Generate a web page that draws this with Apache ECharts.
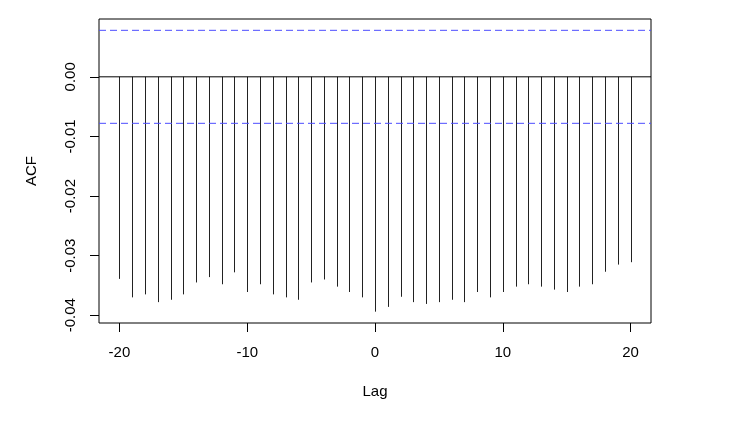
<!DOCTYPE html>
<html>
<head>
<meta charset="utf-8">
<script src="https://cdn.jsdelivr.net/npm/echarts@6/dist/echarts.min.js"></script>
<style>
  html, body { margin: 0; padding: 0; background: #fff; }
  #chart { width: 751px; height: 425px; }
</style>
</head>
<body>
<div id="chart"></div>
<script>
// lags and autocorrelation values
const lags = [-20, -19, -18, -17, -16, -15, -14, -13, -12, -11, -10, -9, -8, -7, -6, -5, -4, -3, -2, -1,
    0, 1, 2, 3, 4, 5, 6, 7, 8, 9, 10, 11, 12, 13, 14, 15, 16, 17, 18, 19, 20]
const acf = [-0.0339, -0.0370, -0.0365, -0.0378, -0.0374, -0.0365, -0.0345, -0.0336, -0.0348, -0.0328,
    -0.0361, -0.0348, -0.0365, -0.0370, -0.0374, -0.0345, -0.0340, -0.0352, -0.0361, -0.0370,
    -0.0394, -0.0386, -0.0369, -0.0378, -0.0381, -0.0378, -0.0374, -0.0378, -0.0361, -0.0370,
    -0.0361, -0.0352, -0.0348, -0.0352, -0.0357, -0.0361, -0.0352, -0.0348, -0.0327, -0.0315, -0.0311]
const ciBound = 0.0078
const xRange = [-21.6, 21.6]
const yRange = [-0.0413, 0.0097]
const xTicks = [-20, -10, 0, 10, 20]
const yTicks = [0, -0.01, -0.02, -0.03, -0.04]

const font = 'Liberation Sans, Arial, sans-serif'
const chart = echarts.init(document.getElementById('chart'))

// horizontal reference line spanning the full x range
function hline(y, color, dash, z) {
    return {
        type: 'line',
        data: [[xRange[0], y], [xRange[1], y]],
        symbol: 'none',
        silent: true,
        z: z,
        lineStyle: { color: color, width: 1, type: dash }
    }
}

chart.setOption({
    animation: false,
    backgroundColor: '#fff',
    grid: { left: 99, right: 100, top: 19, bottom: 102, show: true, borderColor: '#000', borderWidth: 1 },
    xAxis: {
        type: 'value',
        min: xRange[0],
        max: xRange[1],
        name: 'Lag',
        nameLocation: 'middle',
        nameGap: 61,
        nameTextStyle: { fontFamily: font, fontSize: 15, color: '#000' },
        axisLine: { show: false, onZero: false },
        splitLine: { show: false },
        axisTick: { show: true, customValues: xTicks, length: 9, lineStyle: { color: '#000' } },
        axisLabel: { customValues: xTicks, margin: 22, fontFamily: font, fontSize: 15, color: '#000' }
    },
    yAxis: {
        type: 'value',
        min: yRange[0],
        max: yRange[1],
        name: 'ACF',
        nameLocation: 'middle',
        nameGap: 60,
        nameRotate: 90,
        nameTextStyle: { fontFamily: font, fontSize: 15, color: '#000' },
        axisLine: { show: false, onZero: false },
        splitLine: { show: false },
        axisTick: { show: true, customValues: yTicks, length: 9, lineStyle: { color: '#000' } },
        axisLabel: {
            customValues: yTicks,
            rotate: 90,
            margin: 21,
            fontFamily: font,
            fontSize: 15,
            color: '#000',
            formatter: v => v.toFixed(2)
        }
    },
    series: [
        hline(0, '#000', 'solid', 2),
        {
            type: 'custom',
            z: 2,
            data: lags.map((l, i) => [l, acf[i]]),
            renderItem: (params, api) => {
                const top = api.coord([api.value(0), 0])
                const bot = api.coord([api.value(0), api.value(1)])
                const x = Math.round(top[0]) + 0.5
                return {
                    type: 'line',
                    shape: { x1: x, y1: top[1], x2: x, y2: bot[1] },
                    style: { stroke: '#222', lineWidth: 1 }
                }
            }
        },
        hline(ciBound, '#4d4dff', [7, 4], 5),
        hline(-ciBound, '#4d4dff', [7, 4], 5)
    ]
})
</script>
</body>
</html>
